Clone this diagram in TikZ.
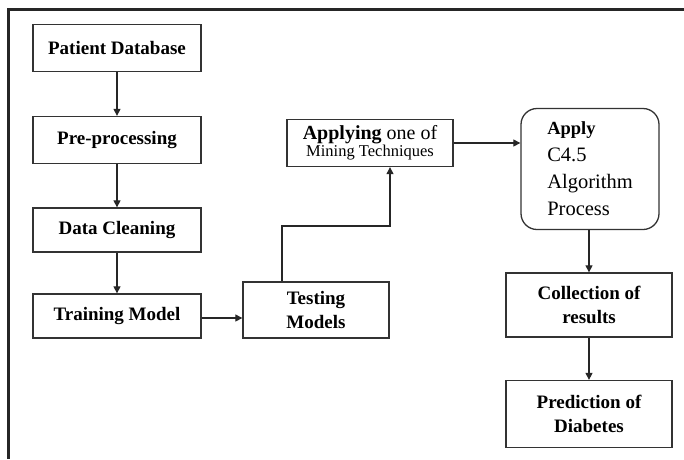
\documentclass[tikz,border=0pt]{standalone}
\usepackage{fontspec}
\setmainfont{Liberation Serif}
\usetikzlibrary{arrows.meta}
\tikzset{
  box/.style={draw=black!80, line width=1.3pt, fill=white, align=center,
    inner sep=2pt, font=\fontsize{19}{24}\selectfont\bfseries},
  arr/.style={draw=black!85, line width=1.1pt, -{Triangle[length=7pt,width=7pt]}},
  frame/.style={draw=black!85, line width=3pt}
}
\begin{document}
\begin{tikzpicture}[x=1pt,y=-1pt]
  \useasboundingbox (0,0) rectangle (684,459);
  % outer frame (top and left edges only)
  \draw[frame] (684,9) -- (8.5,9) -- (8.5,459);

  % left column
  \node[box, minimum width=168, minimum height=47] (db)    at (117,48)  {Patient Database};
  \node[box, minimum width=168, minimum height=47] (pre)   at (117,140) {Pre-processing};
  \node[box, minimum width=168, minimum height=44] (clean) at (117,230) {Data Cleaning};
  \node[box, minimum width=168, minimum height=44] (train) at (117,316) {Training Model};

  % middle
  \node[box, minimum width=146, minimum height=56] (test)  at (316,310) {Testing\\Models};
  \node[box, minimum width=166, minimum height=47, font=\fontsize{20}{17}\selectfont] (mine) at (370,143)
    {\textbf{Applying} one of\\{\fontsize{16.5}{17}\selectfont Mining Techniques}};

  % right column
  \node[box, rounded corners=16pt, minimum width=138, minimum height=121, align=left,
        font=\fontsize{20.5}{27}\selectfont] (c45) at (590,169)
    {{\fontsize{18.5}{27}\selectfont\bfseries Apply}\\C4.5\\Algorithm\\Process};
  \node[box, minimum width=166, minimum height=64] (coll) at (589,305) {Collection of\\results};
  \node[box, minimum width=166, minimum height=67] (pred) at (589,414) {Prediction of\\Diabetes};

  % connectors
  \coordinate (bend) at (390,226);
  \draw[arr] (db) -- (pre);
  \draw[arr] (pre) -- (clean);
  \draw[arr] (clean) -- (train);
  \draw[arr] (train.east |- 0,318) -- (test.west |- 0,318);
  \draw[arr] ([xshift=-34pt]test.north) |- (bend) -- (bend |- mine.south);
  \draw[arr] (mine) -- (c45.west |- mine);
  \draw[arr] (c45.south -| coll) -- (coll);
  \draw[arr] (coll) -- (pred);
\end{tikzpicture}
\end{document}
